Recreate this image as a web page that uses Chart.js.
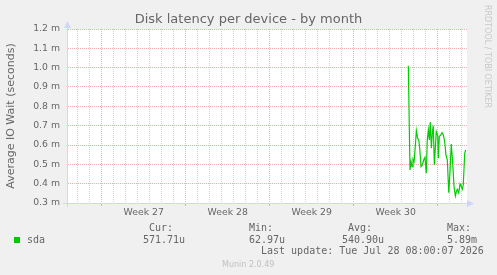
<!DOCTYPE html>
<html lang="en">
<head>
    <meta charset="UTF-8">
    <title>Disk latency per device - by month</title>
    <script src="https://cdn.jsdelivr.net/npm/chart.js"></script>
    <style>
        body { margin: 0; background: #f0f0f0; }
        #wrap { position: relative; width: 497px; height: 275px; overflow: hidden; }
        #chart { position: absolute; left: 0; top: 0; }
        .txt { position: absolute; white-space: pre; color: #666; }
        .mono { font: 10px/12px "DejaVu Sans Mono", monospace; }
        #title { left: 0; width: 497px; top: 11px; text-align: center; font: 13px/16px "DejaVu Sans", sans-serif; }
        #mark { left: 482px; top: 5px; width: 10px; font: 8px/10px "DejaVu Sans", sans-serif; color: #c8c8c8; writing-mode: vertical-rl; }
        #munin { left: 222px; top: 260px; font: 8px/10px "DejaVu Sans", sans-serif; color: #c0c0c0; }
        #swatch { position: absolute; left: 14px; top: 237px; width: 6px; height: 6px; background: #00cc00; }
    </style>
</head>
<body>
<div id="wrap">
    <canvas id="chart" width="497" height="275"></canvas>
    <div class="txt" id="title">Disk latency per device - by month</div>
    <div class="txt" id="mark">RRDTOOL / TOBI OETIKER</div>
    <div id="swatch"></div>
    <div class="txt mono" style="left:27px;top:233.5px">sda</div>
    <div class="txt mono" style="left:149px;top:221.5px">Cur:</div>
    <div class="txt mono" style="left:249px;top:221.5px">Min:</div>
    <div class="txt mono" style="left:348px;top:221.5px">Avg:</div>
    <div class="txt mono" style="left:447px;top:221.5px">Max:</div>
    <div class="txt mono" style="left:143px;top:233.5px">571.71u</div>
    <div class="txt mono" style="left:249px;top:233.5px">62.97u</div>
    <div class="txt mono" style="left:342px;top:233.5px">540.90u</div>
    <div class="txt mono" style="left:447px;top:233.5px">5.89m</div>
    <div class="txt mono" style="left:261px;top:244.5px">Last update: Tue Jul 28 08:00:07 2026</div>
    <div class="txt" id="munin">Munin 2.0.49</div>
</div>

<script>
    // x = days since Monday of week 27, y = average IO wait in ms
    const dayPos = [25.55, 25.69, 25.78, 25.86, 25.94, 26.03, 26.13, 26.22, 26.33, 26.42,
                    26.50, 26.61, 26.72, 26.83, 26.94, 27.05, 27.13, 27.22, 27.30, 27.38,
                    27.47, 27.55, 27.63, 27.72, 27.80, 27.88, 28.00, 28.05, 28.13, 28.25,
                    28.36, 28.47, 28.58, 28.69, 28.80, 28.92, 29.03, 29.13, 29.25, 29.36,
                    29.47, 29.55, 29.63, 29.75, 29.86, 29.94, 30.05, 30.13, 30.25, 30.33];
    const latencyMs = [1.01, 0.471, 0.514, 0.488, 0.526, 0.514, 0.591, 0.674, 0.635, 0.626,
                       0.583, 0.488, 0.497, 0.522, 0.536, 0.454, 0.626, 0.678, 0.626, 0.719,
                       0.583, 0.661, 0.700, 0.497, 0.583, 0.669, 0.647, 0.531, 0.643, 0.652,
                       0.664, 0.652, 0.617, 0.548, 0.522, 0.353, 0.471, 0.605, 0.505, 0.384,
                       0.336, 0.358, 0.371, 0.353, 0.398, 0.388, 0.371, 0.393, 0.557, 0.574];
    const weekLabels = ['Week 27', 'Week 28', 'Week 29', 'Week 30'];
    const weekMid = [3.5, 10.5, 17.5, 24.5];
    const yTicks = [0.3, 0.4, 0.5, 0.6, 0.7, 0.8, 0.9, 1.0, 1.1, 1.2];

    const axisColor = '#cfd6f8';
    const majorGrid = 'rgba(220,100,100,0.5)';
    const minorGrid = 'rgba(150,150,150,0.45)';

    const isMid = v => weekMid.includes(v);

    // white canvas behind the plot, arrows on the axes
    const munin = {
        id: 'munin',
        beforeDraw(chart) {
            const { ctx, chartArea: a } = chart;
            ctx.save();
            ctx.fillStyle = '#ffffff';
            ctx.fillRect(a.left, a.top, a.right - a.left, a.bottom - a.top);
            ctx.restore();
        },
        afterDraw(chart) {
            const { ctx, chartArea: a } = chart;
            ctx.save();
            ctx.strokeStyle = axisColor;
            ctx.fillStyle = axisColor;
            ctx.lineWidth = 1;
            ctx.beginPath();
            ctx.moveTo(a.left + 0.5, a.top);
            ctx.lineTo(a.left + 0.5, 24);
            ctx.moveTo(a.left + 0.5, a.bottom);
            ctx.lineTo(a.left + 0.5, a.bottom + 4);
            ctx.moveTo(a.left - 4, a.bottom + 0.5);
            ctx.lineTo(a.left, a.bottom + 0.5);
            ctx.moveTo(a.right, a.bottom + 0.5);
            ctx.lineTo(a.right + 3, a.bottom + 0.5);
            ctx.stroke();
            ctx.beginPath();
            ctx.moveTo(a.left + 0.5, 21);
            ctx.lineTo(a.left - 3, 28);
            ctx.lineTo(a.left + 4, 28);
            ctx.closePath();
            ctx.fill();
            ctx.beginPath();
            ctx.moveTo(a.right + 7, a.bottom + 0.5);
            ctx.lineTo(a.right, a.bottom - 3);
            ctx.lineTo(a.right, a.bottom + 4);
            ctx.closePath();
            ctx.fill();
            ctx.restore();
        }
    };

    new Chart(document.getElementById('chart'), {
        type: 'line',
        data: {
            datasets: [{
                label: 'sda',
                data: dayPos.map((d, i) => ({ x: d, y: latencyMs[i] })),
                borderColor: '#00cc00',
                borderWidth: 1.2,
                pointRadius: 0,
                tension: 0,
                fill: false
            }]
        },
        options: {
            responsive: false,
            animation: false,
            events: [],
            layout: { padding: { top: 29, right: 30, bottom: 0, left: 0 } },
            plugins: { legend: { display: false }, tooltip: { enabled: false }, title: { display: false } },
            scales: {
                x: {
                    type: 'linear',
                    min: -2.89,
                    max: 30.44,
                    afterFit: s => { s.height = 72; },
                    afterBuildTicks: s => {
                        const t = [];
                        for (let d = -2; d <= 30; d++) t.push(d);
                        s.ticks = t.concat(weekMid).sort((a, b) => a - b).map(v => ({ value: v }));
                    },
                    ticks: {
                        autoSkip: false,
                        maxRotation: 0,
                        padding: 1,
                        color: '#666',
                        font: { family: 'DejaVu Sans', size: 9.3 },
                        callback: v => {
                            const i = weekMid.indexOf(v);
                            return i >= 0 ? weekLabels[i] : '';
                        }
                    },
                    grid: {
                        color: c => isMid(c.tick.value) ? 'rgba(0,0,0,0)' : (c.tick.value % 7 === 0 ? majorGrid : minorGrid),
                        tickColor: c => (c.tick.value % 7 === 0 ? majorGrid : 'rgba(0,0,0,0)'),
                        tickLength: 3,
                        lineWidth: 1
                    },
                    border: { color: axisColor, dash: [1, 1] }
                },
                y: {
                    min: 0.3,
                    max: 1.2,
                    afterFit: s => { s.width = 67; },
                    afterBuildTicks: s => { s.ticks = yTicks.map(v => ({ value: v })); },
                    ticks: {
                        padding: 7,
                        color: '#666',
                        font: { family: 'DejaVu Sans', size: 9.3 },
                        callback: v => v.toFixed(1) + ' m'
                    },
                    grid: { color: majorGrid, drawTicks: false, lineWidth: 1 },
                    border: { color: axisColor, dash: [1, 1] },
                    title: {
                        display: true,
                        text: 'Average IO Wait (seconds)',
                        color: '#666',
                        font: { family: 'DejaVu Sans', size: 11 },
                        padding: { top: 5, bottom: 0 }
                    }
                }
            }
        },
        plugins: [munin]
    });
</script>
</body>
</html>
